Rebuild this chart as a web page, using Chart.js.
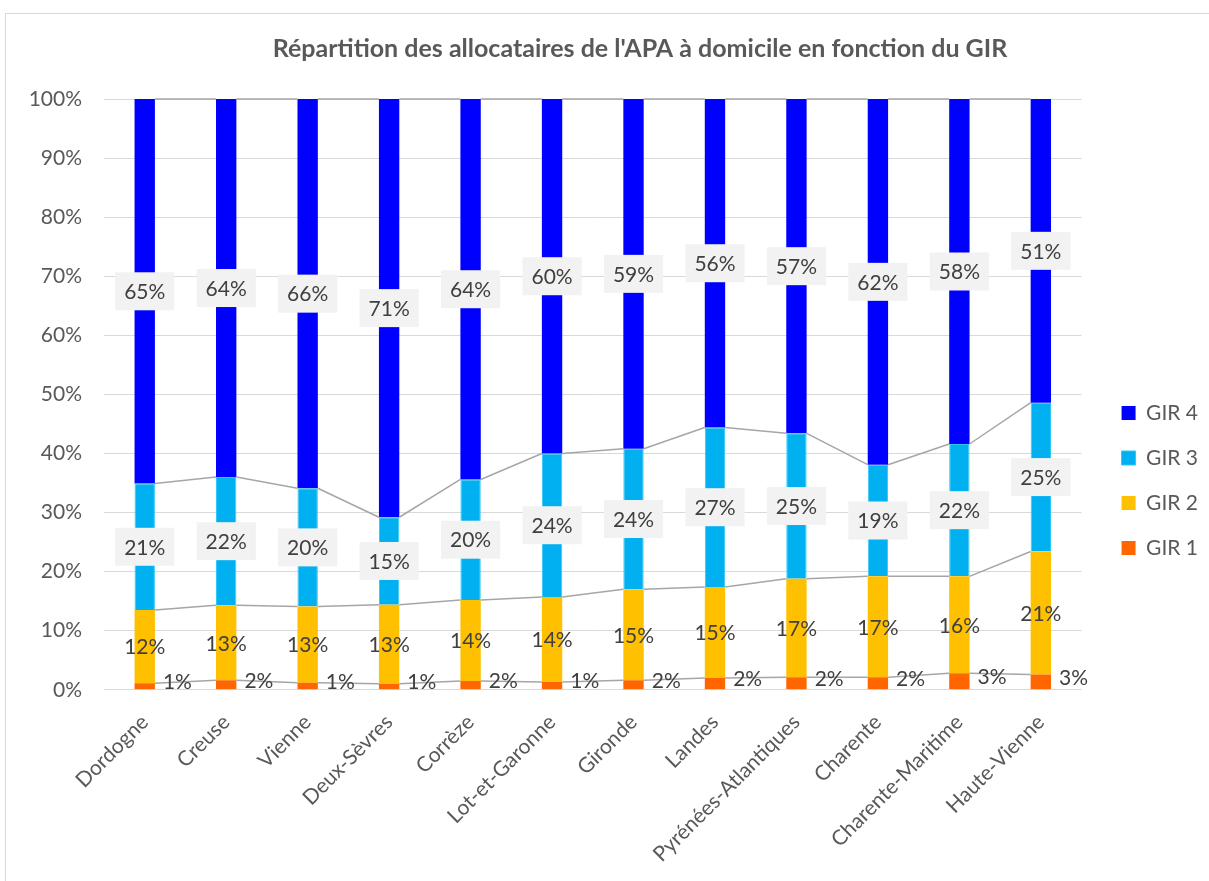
<!DOCTYPE html>
<html lang="fr">
<head>
<meta charset="UTF-8">
<meta name="viewport" content="width=device-width, initial-scale=1.0">
<script src="https://cdn.jsdelivr.net/npm/chart.js"></script>
<title>Répartition des allocataires de l'APA à domicile en fonction du GIR</title>
<style>
    html, body { margin: 0; padding: 0; background: #fff; overflow: hidden; }
    .cadre {
        position: absolute; left: 5px; top: 13px;
        width: 1272px; height: 935px;
        border: 1px solid #d9d9d9; box-sizing: border-box;
    }
    .cadre canvas { display: block; }
</style>
<script>
    // valeurs en %
    const departements = ['Dordogne', 'Creuse', 'Vienne', 'Deux-Sèvres', 'Corrèze', 'Lot-et-Garonne',
        'Gironde', 'Landes', 'Pyrénées-Atlantiques', 'Charente', 'Charente-Maritime', 'Haute-Vienne'];
    const gir1 = [1.1, 1.6, 1.2, 1.0, 1.5, 1.3, 1.6, 2.0, 2.1, 2.1, 2.8, 2.6];
    const gir2 = [12.4, 12.7, 12.9, 13.4, 13.7, 14.4, 15.4, 15.4, 16.7, 17.1, 16.4, 20.8];
    const gir3 = [21.4, 21.7, 20.0, 14.8, 20.4, 24.3, 23.8, 27.0, 24.6, 18.9, 22.4, 25.2];
    const gir4 = [65.1, 64.0, 65.9, 70.8, 64.4, 60.0, 59.2, 55.6, 56.6, 61.9, 58.4, 51.4];
    const titre = "Répartition des allocataires de l'APA à domicile en fonction du GIR";

    // traits de liaison entre les barres (comme dans Excel)
    const lignesSeries = {
        id: 'lignesSeries',
        afterDatasetsDraw(chart) {
            const c = chart.ctx;
            c.save();
            c.strokeStyle = '#a6a6a6';
            c.lineWidth = 1.5;
            chart.data.datasets.forEach((ds, i) => {
                const barres = chart.getDatasetMeta(i).data;
                for (let j = 0; j < barres.length - 1; j++) {
                    const a = barres[j], b = barres[j + 1];
                    c.beginPath();
                    c.moveTo(a.x + a.width / 2, a.y);
                    c.lineTo(b.x - b.width / 2, b.y);
                    c.stroke();
                }
            });
            c.restore();
        }
    };

    // étiquettes de données
    const etiquettes = {
        id: 'etiquettes',
        afterDatasetsDraw(chart) {
            const c = chart.ctx;
            c.save();
            c.font = '21px Lato';
            c.textBaseline = 'middle';
            chart.data.datasets.forEach((ds, i) => {
                chart.getDatasetMeta(i).data.forEach((bar, j) => {
                    const txt = Math.round(ds.data[j]) + '%';
                    const milieu = (bar.y + bar.base) / 2;
                    if (i === 0) {
                        c.textAlign = 'left';
                        c.fillStyle = '#404040';
                        c.fillText(txt, bar.x + bar.width / 2 + 8, milieu - 4);
                        return;
                    }
                    const w = c.measureText(txt).width;
                    if (i >= 2) {
                        c.fillStyle = '#f2f2f2';
                        c.fillRect(bar.x - w / 2 - 9, milieu - 19, w + 18, 38);
                    }
                    c.textAlign = 'center';
                    c.fillStyle = '#404040';
                    c.fillText(txt, bar.x, milieu + 1);
                });
            });
            c.restore();
        }
    };

    function dessiner() {
        Chart.defaults.font.family = 'Lato';
        const ctx = document.getElementById('myChart');
        new Chart(ctx, {
            type: 'bar',
            data: {
                labels: departements,
                datasets: [
                    { label: 'GIR 1', data: gir1, backgroundColor: '#ff6600' },
                    { label: 'GIR 2', data: gir2, backgroundColor: '#ffc000' },
                    { label: 'GIR 3', data: gir3, backgroundColor: '#00b0f0', borderColor: '#2ec8f8', borderWidth: 1 },
                    { label: 'GIR 4', data: gir4, backgroundColor: '#0000ff' }
                ]
            },
            options: {
                responsive: false,
                animation: false,
                layout: { padding: { left: 23, right: 25, top: 0, bottom: 68 } },
                datasets: { bar: { barPercentage: 0.25, categoryPercentage: 1, yAxisID: 'y' } },
                scales: {
                    x: {
                        stacked: true,
                        grid: { display: false },
                        border: { display: false },
                        ticks: { autoSkip: false, maxRotation: 45, minRotation: 45, color: '#595959', font: { size: 21 }, padding: 12 },
                        afterFit: s => { s.paddingLeft = 0; s.paddingRight = 0; }
                    },
                    y: {
                        stacked: true,
                        min: 0, max: 100,
                        ticks: { stepSize: 10, callback: v => v + '%', padding: 22, color: '#595959', font: { size: 21 } },
                        grid: { color: '#d9d9d9', drawTicks: false },
                        border: { display: false },
                        afterFit: s => { s.width = 75; }
                    },
                    // espace entre le graphique et la légende
                    marge: {
                        position: 'right',
                        grid: { display: false },
                        border: { display: false },
                        ticks: { display: false },
                        afterFit: s => { s.width = 16; }
                    },
                    // espace à droite de la légende
                    bord: {
                        position: 'right',
                        weight: 2000,
                        grid: { display: false },
                        border: { display: false },
                        ticks: { display: false },
                        afterFit: s => { s.width = 43; }
                    }
                },
                plugins: {
                    title: {
                        display: true, text: titre, color: '#595959',
                        font: { size: 25, weight: 'bold' },
                        padding: { top: 20, bottom: 35 }
                    },
                    legend: {
                        position: 'right',
                        reverse: true,
                        title: { display: true, text: ' ', padding: { top: 56, bottom: 0 }, font: { size: 10 } },
                        labels: { boxWidth: 14, boxHeight: 14, padding: 24, color: '#595959', font: { size: 21 } }
                    },
                    tooltip: { enabled: false }
                }
            },
            plugins: [lignesSeries, etiquettes]
        });
    }

    window.addEventListener('load', function () {
        document.fonts.load('21px Lato').then(dessiner, dessiner);
    });
</script>
</head>
<body>
    <div class="cadre">
        <canvas id="myChart" width="1270" height="933"></canvas>
    </div>
</body>
</html>
